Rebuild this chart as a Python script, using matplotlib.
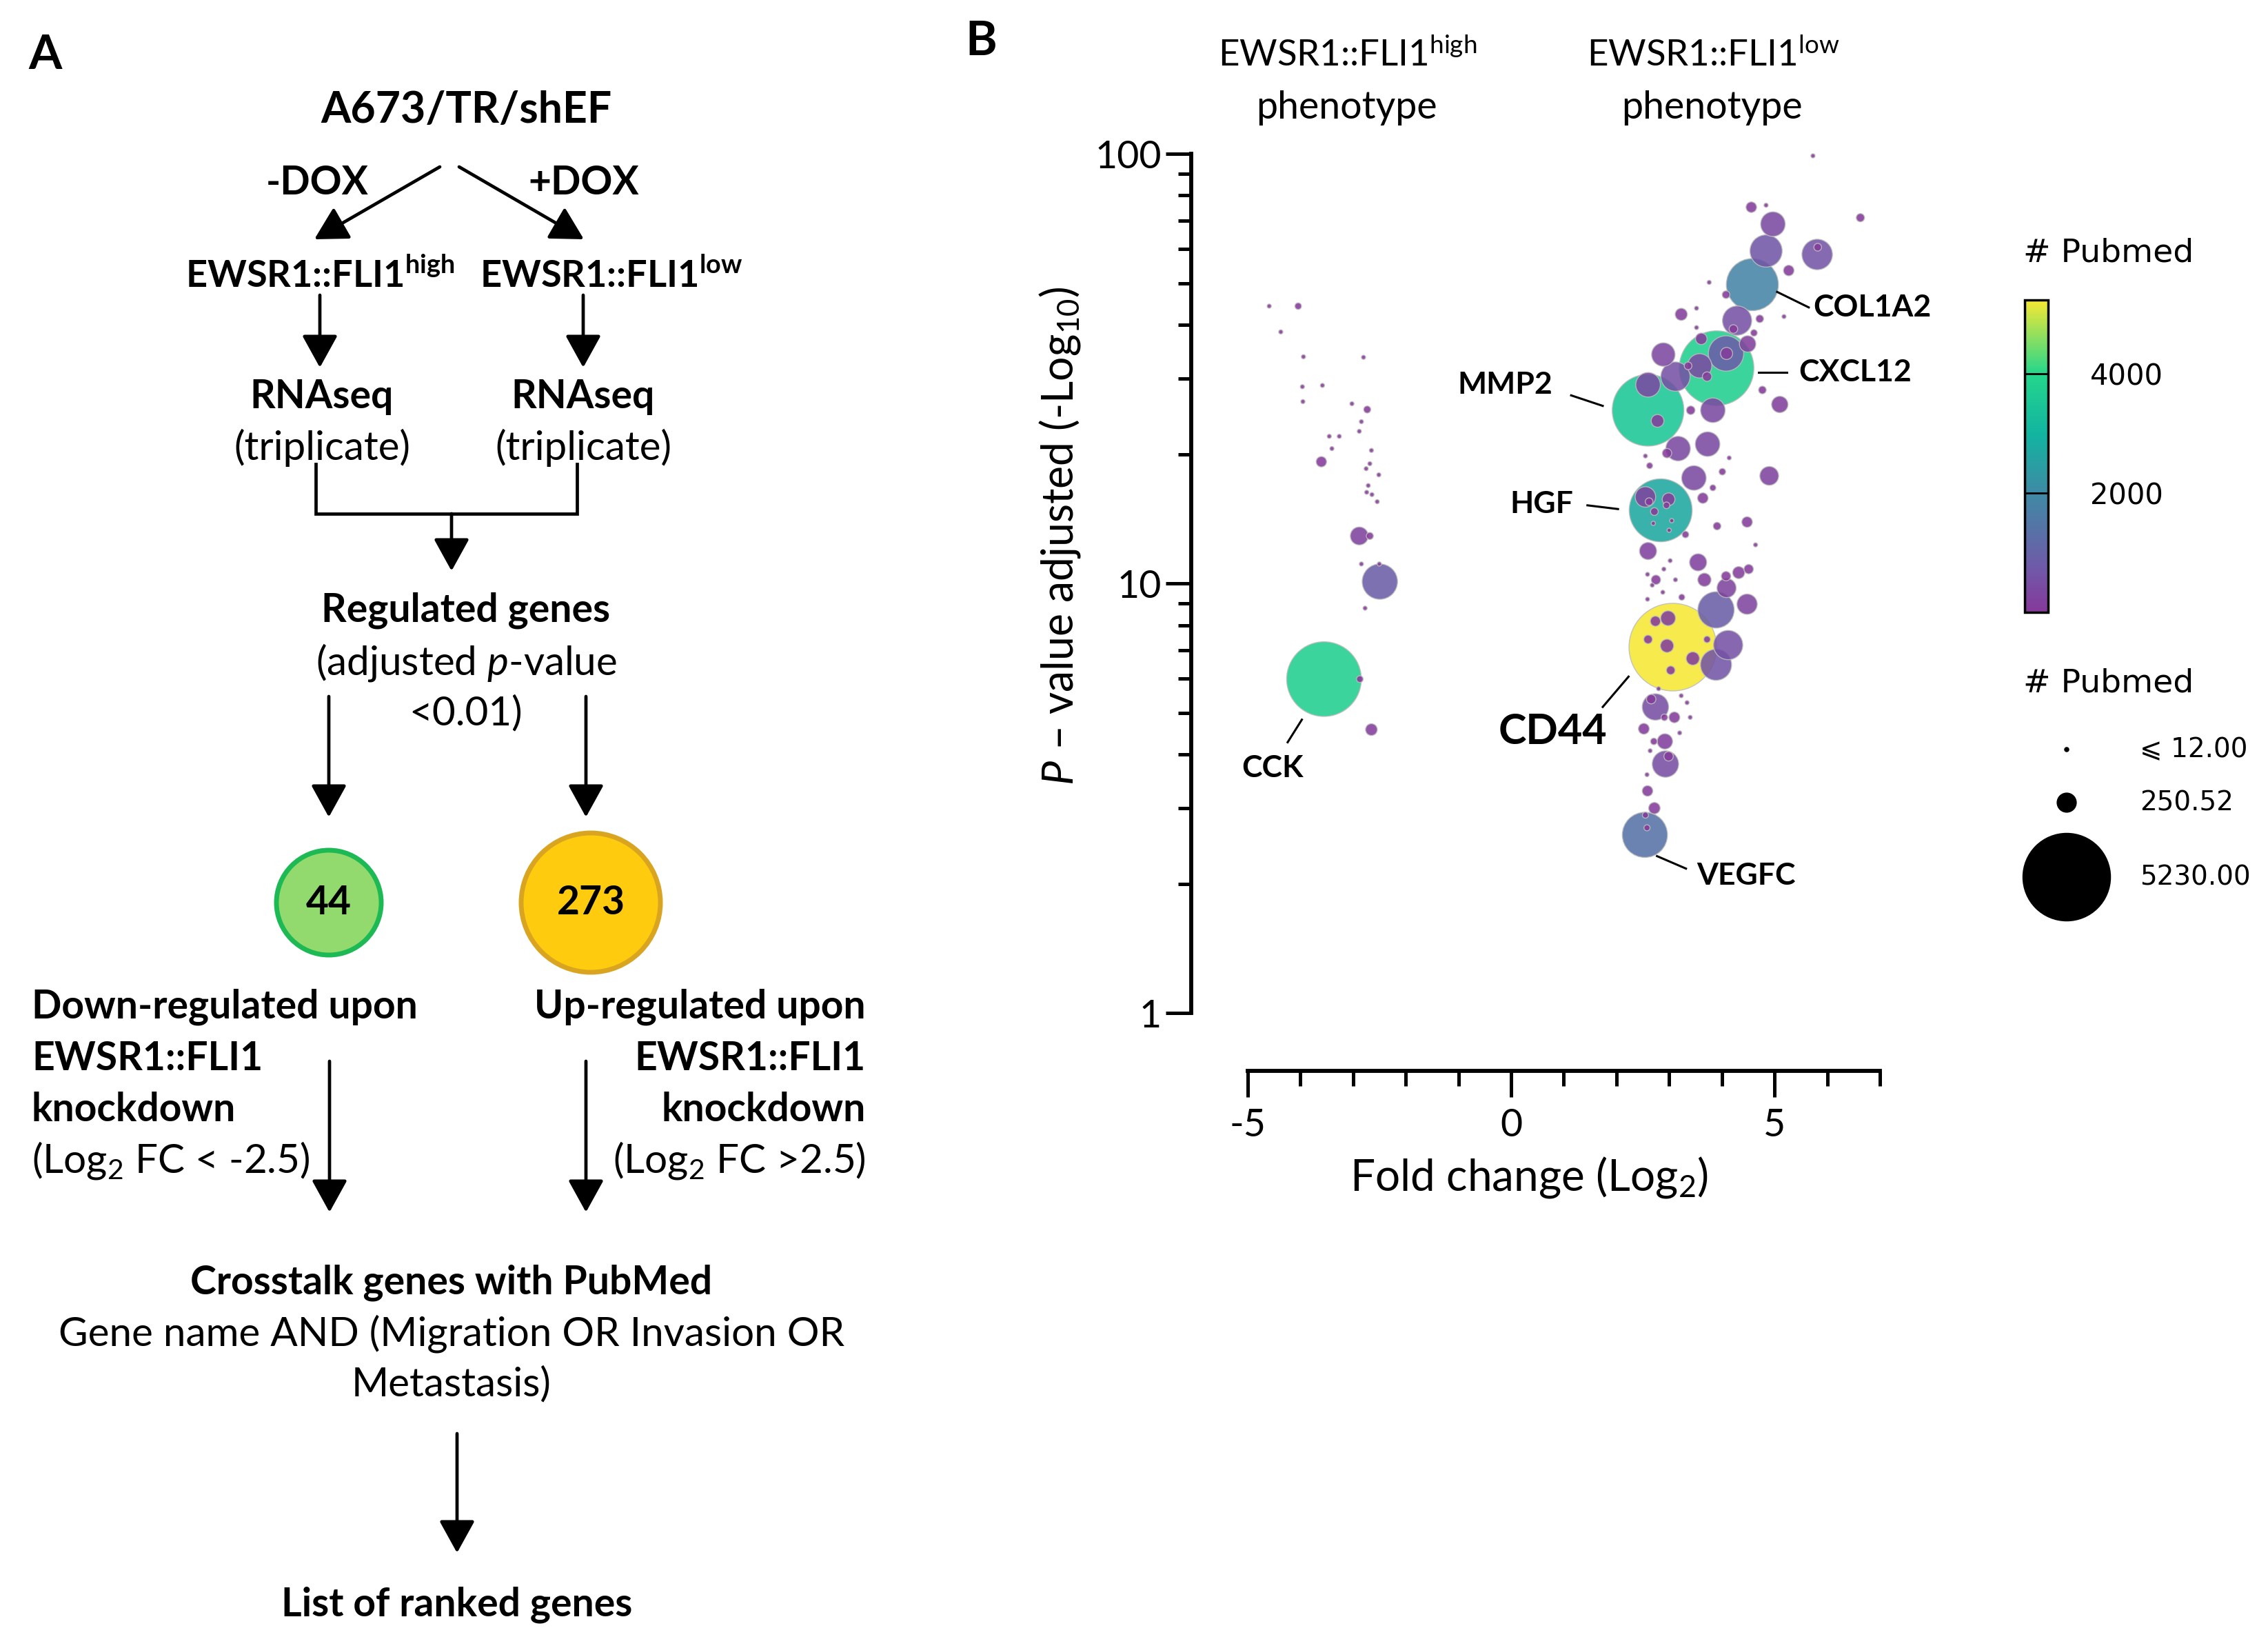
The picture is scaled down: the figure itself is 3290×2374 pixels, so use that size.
import matplotlib
matplotlib.use('Agg')
import numpy as np
import matplotlib.pyplot as plt
from matplotlib.patches import Circle
from matplotlib.colors import Normalize, LinearSegmentedColormap
from matplotlib.cm import ScalarMappable
from matplotlib.ticker import FixedLocator, NullFormatter

plt.rcParams['font.family'] = ['Lato', 'DejaVu Sans']
plt.rcParams['mathtext.fontset'] = 'custom'
plt.rcParams['mathtext.rm'] = 'Lato'
plt.rcParams['mathtext.it'] = 'Lato:italic'
plt.rcParams['mathtext.bf'] = 'Lato:bold'

# ---- panel B data: log2 fold change, adjusted p-value, pubmed hits ----
log2_fc = [
    -4.59, -4.04, -4.37, -3.94, -2.80, -3.96, -3.58, -3.95, -3.02, -2.73,
    -2.84, -2.88, -3.45, -3.26, -3.40, -2.65, -3.60, -2.68, -2.75, -2.51,
    -2.71, -2.74, -2.64, -2.54, -2.88, -2.68, -2.84, -2.50, -2.49, -2.77,
    -3.55, -2.87, -2.65,
    5.73, 4.56, 4.84, 6.63, 4.97, 4.84, 5.81, 5.82, 5.27, 3.76,
    4.58, 4.08, 3.52, 3.23, 4.29, 4.72, 5.18, 3.52, 4.22, 4.49,
    4.61, 3.61, 3.90, 4.08, 4.09, 2.89, 3.12, 3.58, 3.72, 3.36,
    4.77, 5.10, 2.60, 2.60, 2.78, 3.41, 3.83, 3.17, 3.73, 2.96,
    4.14, 2.55, 2.63, 4.01, 3.47, 4.90, 3.83, 3.64, 2.84, 2.55,
    2.99, 2.72, 3.31, 3.91, 4.48, 4.64, 2.60, 3.55, 3.02, 2.90,
    2.59, 2.75, 3.12, 2.68, 3.67, 4.08, 4.32, 4.51, 4.09, 2.88,
    2.59, 3.24, 3.89, 4.48, 3.07, 2.98, 2.74, 2.60, 2.96, 3.45,
    3.03, 3.72, 4.12, 3.89, 2.80, 3.23, 3.34, 3.40, 2.74, 2.66,
    2.91, 3.10, 2.52, 2.92, 3.20, 2.71, 2.64, 2.93, 2.99, 2.58,
    2.59, 2.72, 2.55, 2.54, 2.58, 2.62, 2.95, 3.05, 2.70, 3.00,
]
padj = [
    44.2, 44.2, 38.5, 33.7, 33.6, 28.7, 28.9, 26.5, 26.2, 25.4,
    23.8, 22.6, 22.0, 22.0, 20.6, 20.4, 19.2, 19.0, 18.5, 17.9,
    16.9, 16.3, 16.1, 15.5, 12.9, 12.9, 11.1, 11.1, 10.1, 8.76,
    5.99, 5.99, 4.57,
    98.9, 75.1, 75.9, 71.0, 68.6, 59.4, 58.3, 60.6, 53.5, 50.2,
    49.6, 47.0, 43.7, 42.3, 40.9, 41.3, 41.8, 39.4, 39.1, 36.1,
    38.3, 37.1, 31.7, 34.3, 34.3, 34.1, 30.3, 32.1, 30.3, 32.1,
    28.2, 26.1, 29.0, 25.3, 23.9, 25.3, 25.3, 20.6, 21.1, 20.1,
    19.6, 19.8, 18.8, 18.2, 17.6, 17.8, 16.7, 15.8, 14.8, 15.9,
    15.7, 14.7, 13.0, 13.6, 13.9, 12.3, 11.9, 11.2, 11.3, 10.8,
    10.5, 10.2, 10.2, 9.91, 10.2, 10.4, 10.6, 10.8, 9.76, 9.54,
    9.19, 9.29, 8.68, 8.95, 7.11, 8.30, 8.17, 7.41, 7.16, 6.69,
    6.28, 7.41, 7.19, 6.47, 5.69, 5.48, 5.28, 4.88, 5.16, 5.38,
    4.88, 4.88, 4.59, 4.29, 4.49, 4.29, 4.08, 3.80, 3.96, 3.59,
    3.29, 3.00, 2.89, 2.60, 2.70, 15.5, 15.2, 14.0, 13.8, 13.3,
]
pubmed = [
    12, 29, 12, 12, 12, 12, 12, 12, 12, 34,
    12, 12, 12, 12, 12, 12, 73, 12, 12, 12,
    12, 12, 12, 12, 219, 34, 12, 12, 850, 12,
    3800, 30, 94,
    12, 76, 12, 46, 411, 707, 634, 40, 76, 12,
    1850, 40, 12, 100, 584, 40, 12, 12, 50, 183,
    30, 90, 3800, 850, 100, 375, 584, 400, 60, 40,
    40, 183, 411, 3500, 110, 50, 411, 411, 411, 60,
    12, 12, 25, 30, 411, 240, 25, 76, 2700, 285,
    110, 40, 30, 40, 76, 12, 200, 200, 12, 12,
    12, 60, 12, 12, 120, 60, 100, 60, 250, 12,
    12, 25, 900, 280, 5230, 150, 70, 50, 120, 120,
    50, 30, 584, 660, 12, 12, 12, 12, 475, 60,
    30, 80, 80, 160, 12, 30, 12, 475, 60, 12,
    76, 90, 25, 1390, 25, 40, 30, 12, 12, 12,
]

# labelled genes and where their names sit
gene_names = ['CCK', 'MMP2', 'HGF', 'CD44', 'VEGFC', 'COL1A2', 'CXCL12']
gene_text_fc = [-4.53, -0.11, 0.58, 0.79, 4.46, 5.73, 5.46]
gene_text_p = [3.72, 29.0, 15.3, 4.52, 2.09, 43.9, 31.0]

cbar_ticks = [2000, 4000]
legend_sizes = [12, 250.52, 5230]
legend_labels = ['⩽ 12.00', '250.52', '5230.00']

# colour scale
pubmed_cmap = LinearSegmentedColormap.from_list('pubmed', [
    (0.0, '#86399a'), (0.14, '#7059a8'), (0.38, '#3f8aa5'),
    (0.57, '#12b4a0'), (0.765, '#24d68c'), (1.0, '#f5e833')])

W, H = 3291, 2374
fig = plt.figure(figsize=(W / 100, H / 100), dpi=100)

# ---------------- panel A: flow chart (pixel coordinates) ----------------
axA = fig.add_axes([0, 0, 1, 1])
axA.set_xlim(0, W)
axA.set_ylim(H, 0)
axA.axis('off')

BOLD_SIZE = 41
REG_SIZE = 42


def arrow(x0, y0, x1, y1):
    axA.annotate('', xy=(x1, y1), xytext=(x0, y0),
                 arrowprops=dict(arrowstyle='-|>,head_length=2.9,head_width=1.6',
                                 mutation_scale=10, lw=3.4, color='black',
                                 shrinkA=0, shrinkB=0))


def txt(x, y, s, bold=True, ha='center', size=None):
    if size is None:
        size = BOLD_SIZE if bold else REG_SIZE
    axA.text(x, y, s, ha=ha, va='center', fontsize=size,
             fontweight='bold' if bold else 'normal')


axA.text(66, 81, 'A', ha='center', va='center', fontsize=50, fontweight='bold')
axA.text(1423, 61, 'B', ha='center', va='center', fontsize=50, fontweight='bold')

txt(676, 160, 'A673/TR/shEF', size=45)
arrow(638, 242, 456, 347)
arrow(666, 242, 847, 347)
txt(460, 265, '-DOX')
txt(847, 265, '+DOX')
txt(464, 400, r'EWSR1::FLI1$^{\mathbf{high}}$', size=39)
txt(887, 400, r'EWSR1::FLI1$^{\mathbf{low}}$', size=39)
arrow(464, 428, 464, 533)
arrow(846, 428, 846, 533)
txt(467, 575, 'RNAseq')
txt(846, 575, 'RNAseq')
txt(467, 649, '(triplicate)', bold=False)
txt(846, 649, '(triplicate)', bold=False)
axA.plot([458, 458, 837, 837], [673, 745, 745, 673], color='black', lw=3.4,
         solid_joinstyle='miter')
arrow(655, 745, 655, 828)
txt(676, 885, 'Regulated genes')
txt(676, 961, r'(adjusted $p$-value', bold=False)
txt(676, 1035, '<0.01)', bold=False)
arrow(477, 1010, 477, 1185)
arrow(850, 1010, 850, 1185)

axA.add_patch(Circle((477, 1309), 76, facecolor='#92d96e', edgecolor='#1db954', lw=5))
axA.add_patch(Circle((857, 1309), 101, facecolor='#ffcb0f', edgecolor='#d9a521', lw=5))
txt(477, 1309, '44')
txt(857, 1309, '273')

for i, line in enumerate(['Down-regulated upon', 'EWSR1::FLI1', 'knockdown']):
    txt(46, 1460 + i * 75, line, ha='left')
txt(46, 1683, r'(Log$_2$ FC < -2.5)', bold=False, ha='left')
for i, line in enumerate(['Up-regulated upon', 'EWSR1::FLI1', 'knockdown']):
    txt(1256, 1460 + i * 75, line, ha='right')
txt(1256, 1683, r'(Log$_2$ FC >2.5)', bold=False, ha='right')
arrow(478, 1539, 478, 1758)
arrow(850, 1539, 850, 1758)

txt(655, 1860, 'Crosstalk genes with PubMed')
txt(655, 1934, 'Gene name AND (Migration OR Invasion OR', bold=False)
txt(655, 2008, 'Metastasis)', bold=False)
arrow(663, 2079, 663, 2252)
txt(663, 2327, 'List of ranked genes')

# ---------------- panel B: bubble plot ----------------
L, R, T, B = 1728, 2727, 223, 1553
ax = fig.add_axes([L / W, 1 - B / H, (R - L) / W, (B - T) / H])
ax.patch.set_alpha(0)

fc = np.array(log2_fc)
pv = np.array(padj)
pm = np.array(pubmed, dtype=float)
order = np.argsort(-pm)
norm = Normalize(12, 5230)
sc = ax.scatter(fc[order], pv[order], s=1.6 * pm[order], c=pm[order], cmap=pubmed_cmap,
                norm=norm, alpha=0.88, edgecolors='#bdbdbd', linewidths=1.0,
                clip_on=False, zorder=3)

ax.set_yscale('log')
ax.set_xlim(-6.07, 7.0)
ax.set_ylim(0.734, 100)
for side in ['top', 'right']:
    ax.spines[side].set_visible(False)
ax.spines['left'].set_bounds(1, 100)
ax.spines['bottom'].set_bounds(-5, 7)
ax.spines['left'].set_linewidth(4.2)
ax.spines['bottom'].set_linewidth(4.2)

ax.yaxis.set_major_locator(FixedLocator([1, 10, 100]))
ax.yaxis.set_minor_locator(FixedLocator([2, 3, 4, 5, 6, 7, 8, 9,
                                         20, 30, 40, 50, 60, 70, 80, 90]))
ax.yaxis.set_minor_formatter(NullFormatter())
ax.set_yticklabels(['1', '10', '100'])
ax.xaxis.set_major_locator(FixedLocator([-5, 0, 5]))
ax.xaxis.set_minor_locator(FixedLocator([-4, -3, -2, -1, 1, 2, 3, 4, 6, 7]))
ax.set_xticklabels(['-5', '0', '5'])
ax.tick_params(axis='both', which='major', length=27, width=3.6, labelsize=40)
ax.tick_params(axis='y', which='major', pad=4)
ax.tick_params(axis='x', which='major', pad=12)
ax.tick_params(axis='y', which='minor', length=14, width=3.6)
ax.tick_params(axis='x', which='minor', length=16, width=3.6)

ax.text(0.491, -0.116, r'Fold change (Log$_2$)', transform=ax.transAxes,
        ha='center', va='center', fontsize=46)
ax.text(-0.191, 0.583, r'$P$ – value adjusted (-Log$_{10}$)', transform=ax.transAxes,
        ha='center', va='center', rotation=90, fontsize=45)

# gene labels with leader lines
leader_start = [(-4.24, 4.27), (1.14, 27.4), (1.45, 15.2), (1.74, 5.16),
                (2.77, 2.32), (5.05, 47.7), (4.70, 31.0)]
leader_end = [(-3.97, 4.82), (1.74, 25.9), (2.03, 14.9), (2.23, 6.07),
              (3.32, 2.17), (5.65, 43.9), (5.23, 31.0)]
for name, tx, ty, p0, p1 in zip(gene_names, gene_text_fc, gene_text_p,
                                leader_start, leader_end):
    size = 44 if name == 'CD44' else 32
    ha = 'left' if name in ('COL1A2', 'CXCL12') else 'center'
    ax.text(tx, ty, name, ha=ha, va='center', fontsize=size, fontweight='bold', zorder=5)
    ax.plot([p0[0], p1[0]], [p0[1], p1[1]], color='black', lw=2.2, zorder=5)

# phenotype headers
axA.text(1955, 80, r'EWSR1::FLI1$^{\rm high}$', ha='center', va='center', fontsize=38)
axA.text(1953, 157, 'phenotype', ha='center', va='center', fontsize=40)
axA.text(2485, 80, r'EWSR1::FLI1$^{\rm low}$', ha='center', va='center', fontsize=38)
axA.text(2483, 157, 'phenotype', ha='center', va='center', fontsize=40)

# colour bar
cax = fig.add_axes([2937 / W, 1 - 888 / H, 34 / W, (888 - 435) / H])
cb = fig.colorbar(ScalarMappable(norm=norm, cmap=pubmed_cmap), cax=cax, ticks=cbar_ticks)
cb.outline.set_linewidth(2.5)
cax.tick_params(direction='in', length=24, width=2, pad=44, labelsize=30)
for t in cax.get_yticklabels():
    t.set_fontfamily('DejaVu Sans')
axA.text(2935, 367, '# Pubmed', ha='left', va='center', fontsize=34,
         family='DejaVu Sans')

# size legend
axA.text(2935, 991, '# Pubmed', ha='left', va='center', fontsize=34,
         family='DejaVu Sans')
lax = fig.add_axes([2900 / W, 1 - 1340 / H, 391 / W, 300 / H])
lax.set_xlim(2900, 3291)
lax.set_ylim(1340, 1040)
lax.axis('off')
leg_y = [1087, 1164, 1272]
lax.scatter([2998] * 3, leg_y, s=[1.6 * v for v in legend_sizes], color='black',
            clip_on=False)
for y, lab in zip(leg_y, legend_labels):
    lax.text(3104, y, lab, ha='left', va='center', fontsize=28,
             family=['DejaVu Sans', 'Noto Sans'])

fig.savefig('out.png', dpi=100)
